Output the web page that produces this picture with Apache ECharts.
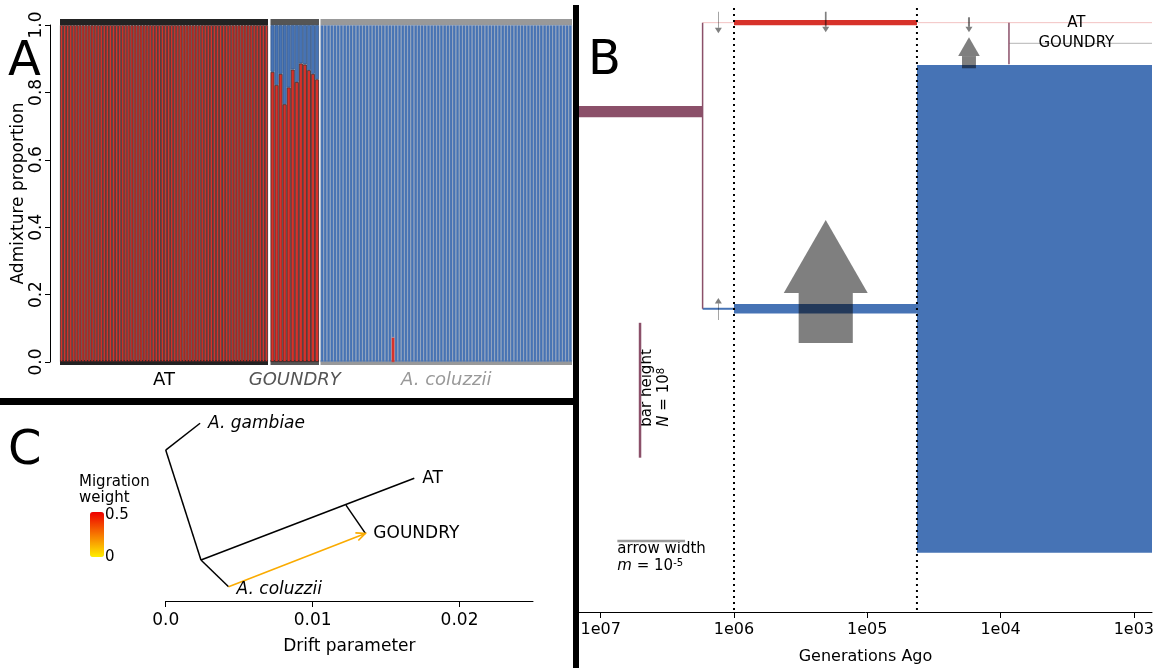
<!DOCTYPE html>
<html>
<head>
<meta charset="utf-8">
<title>Admixture, demography and TreeMix</title>
<script src="https://cdn.jsdelivr.net/npm/echarts@6/dist/echarts.min.js"></script>
</head>
<body style="margin:0;background:#fff">
<div id="chart" style="width:1164px;height:671px"></div>
<script>
// ---------- A: admixture proportion per individual (red part, blue part) ----------
var AT_RED = [
  1, 1, 1, 1, 1, 1, 1, 1, 1, 1, 1, 1, 1, 1, 1, 1, 1,
  1, 1, 1, 1, 1, 1, 1, 1, 1, 1, 1, 1, 1, 1, 1, 1, 1,
  1, 1, 1, 1, 1, 1, 1, 1, 1, 1, 1, 1, 1, 1, 1, 1, 1,
  1, 1, 1, 1, 1, 1, 1, 1, 1, 1, 1, 1, 1, 1, 1, 1, 1
];
var GOU_RED = [0.861, 0.822, 0.855, 0.765, 0.815, 0.868, 0.831, 0.886, 0.883, 0.866, 0.855, 0.839];
var GOU_BLUE = [0.139, 0.178, 0.145, 0.235, 0.185, 0.132, 0.169, 0.114, 0.117, 0.134, 0.145, 0.161];
var COL_RED = [
  0, 0, 0, 0, 0, 0, 0, 0, 0, 0, 0, 0, 0, 0, 0, 0, 0, 0, 0, 0,
  0, 0, 0.073, 0, 0, 0, 0, 0, 0, 0, 0, 0, 0, 0, 0, 0, 0, 0, 0, 0,
  0, 0, 0, 0, 0, 0, 0, 0, 0, 0, 0, 0, 0, 0, 0, 0, 0, 0, 0, 0,
  0, 0, 0, 0, 0, 0, 0, 0, 0, 0, 0, 0, 0, 0, 0, 0, 0, 0
];
var COL_BLUE = [
  1, 1, 1, 1, 1, 1, 1, 1, 1, 1, 1, 1, 1, 1, 1, 1, 1, 1, 1, 1,
  1, 1, 0.927, 1, 1, 1, 1, 1, 1, 1, 1, 1, 1, 1, 1, 1, 1, 1, 1, 1,
  1, 1, 1, 1, 1, 1, 1, 1, 1, 1, 1, 1, 1, 1, 1, 1, 1, 1, 1, 1,
  1, 1, 1, 1, 1, 1, 1, 1, 1, 1, 1, 1, 1, 1, 1, 1, 1, 1
];
var ADMIX_TICKS = [0, 0.2, 0.4, 0.6, 0.8, 1];

// ---------- B: demographic model (x = generations ago, y = layout in individuals) ----------
var GEN_TICKS = [1e7, 1e6, 1e5, 1e4, 1e3];
var GEN_RANGE = [731, 1.455e7];
var EPOCH_T = [1e6, 4.24e4];
// population size blocks: [older gen, younger gen, y centre, N]
var POP_BLOCKS = [
  [1.455e7, 1.72e6, 3.710e8, 8.4e6],   // ancestral
  [1e6, 4.24e4, 4.369e8, 3.9e6],       // AT
  [1e6, 4.24e4, 2.248e8, 6.9e6],       // A. coluzzii
  [4.24e4, 731, 2.248e8, 3.616e8]      // A. coluzzii, recent
];
// thin lineage lines: [older gen, younger gen, y]
var LINEAGES = [
  [1.72e6, 731, 4.369e8],   // AT
  [8650, 731, 4.216e8],     // GOUNDRY
  [1.72e6, 1e6, 2.248e8]    // A. coluzzii
];
// split connectors: [gen, y from, y to]
var SPLITS = [
  [1.72e6, 4.369e8, 2.248e8],
  [8650, 4.369e8, 4.060e8]
];
// migration arrows: [gen, y tail, y tip, m]
var MIGRATIONS = [
  [1.31e6, 4.450e8, 4.290e8, 1e-7],
  [1.31e6, 2.165e8, 2.328e8, 1e-7],
  [2.05e5, 4.450e8, 4.298e8, 2.5e-7],
  [2.05e5, 1.994e8, 2.906e8, 8.0e-6],
  [1.726e4, 4.409e8, 4.298e8, 3e-7],
  [1.726e4, 4.031e8, 4.261e8, 2.06e-6]
];
var LINEAGE_LABELS = ['AT', 'GOUNDRY'];
var LINEAGE_LABEL_POS = [[2700, 4.369e8], [2700, 4.216e8]];
var BAR_LEGEND = [[5.07e6, 1.644e8, 1e8]];          // gen, y centre, N
var ARROW_LEGEND = [[7.5e6, 2.33e6, 5.26e7, 1e-5]];  // gen from, gen to, y, m

// ---------- C: TreeMix graph (x = drift parameter, y = layout) ----------
var DRIFT_TICKS = [0, 0.01, 0.02];
var TREE_EDGES = [
  [0, 0.770, 0.00234, 0.907],
  [0, 0.770, 0.00240, 0.209],
  [0.00240, 0.209, 0.00428, 0.073],
  [0.00240, 0.209, 0.01692, 0.626],
  [0.01227, 0.489, 0.01359, 0.345]
];
var TIPS = ['A. gambiae', 'AT', 'GOUNDRY', 'A. coluzzii'];
var TIP_POS = [[0.00234, 0.907], [0.01692, 0.626], [0.01359, 0.345], [0.00428, 0.073]];
var TIP_ITALIC = [true, false, false, true];
var MIGRATION_EDGES = [[0.00428, 0.073, 0.01359, 0.345, 0.14]];

var FONT = '"DejaVu Sans", "Liberation Sans", sans-serif';
var RED = '#D7322A', BLUE = '#4673B5', MAROON = '#8B5069';
var ARROW_FILL = 'rgba(0,0,0,0.5)';

var chart = echarts.init(document.getElementById('chart'));

function ids(n, prefix) {
    var a = [];
    for (var i = 1; i <= n; i++) a.push(prefix + i);
    return a;
}

// zero proportions are left empty so no border is drawn for them
function noZero(arr) {
    return arr.map(function (v) { return v === 0 ? '-' : v; });
}

function groupAxes(gi, n, name, barColor, nameStyle) {
    var cats = ids(n, name + ' ');
    var ns = { fontFamily: FONT, fontSize: 18 };
    for (var k in nameStyle) ns[k] = nameStyle[k];
    return [{
        type: 'category', gridIndex: gi, data: cats, position: 'bottom', offset: 2.5,
        axisLine: { lineStyle: { color: barColor, width: 5, cap: 'butt' } },
        axisTick: { show: false }, axisLabel: { show: false },
        name: name, nameLocation: 'middle', nameGap: 7, nameTextStyle: ns
    }, {
        type: 'category', gridIndex: gi, data: cats, position: 'top', offset: 3,
        axisLine: { lineStyle: { color: barColor, width: 6, cap: 'butt' } },
        axisTick: { show: false }, axisLabel: { show: false }
    }];
}

function bar(data, xi, yi, color, border, bw) {
    return {
        type: 'bar', xAxisIndex: xi, yAxisIndex: yi, stack: 'g' + xi,
        data: noZero(data), barCategoryGap: '0%', silent: true,
        itemStyle: { color: color, borderColor: border, borderWidth: bw }
    };
}

// ----- panel B renderers -----
function renderLineage(params, api) {
    var a = api.coord([api.value(0), api.value(2)]);
    var b = api.coord([api.value(1), api.value(2)]);
    var colors = ['#F2C2C2', '#B4B4B4', BLUE];
    var widths = [1, 1, 2];
    return {
        type: 'line', shape: { x1: a[0], y1: a[1], x2: b[0], y2: b[1] },
        style: { stroke: colors[params.dataIndex], lineWidth: widths[params.dataIndex] }
    };
}

function renderSplit(params, api) {
    var a = api.coord([api.value(0), api.value(1)]);
    var b = api.coord([api.value(0), api.value(2)]);
    return {
        type: 'line', shape: { x1: a[0], y1: a[1], x2: b[0], y2: b[1] },
        style: { stroke: MAROON, lineWidth: 1.5 }
    };
}

function renderBlock(params, api) {
    var colors = [MAROON, RED, BLUE, BLUE];
    var half = api.value(3) / 2;
    var a = api.coord([api.value(0), api.value(2) + half]);
    var b = api.coord([api.value(1), api.value(2) - half]);
    return {
        type: 'rect',
        shape: { x: a[0], y: a[1], width: b[0] - a[0], height: b[1] - a[1] },
        style: { fill: colors[params.dataIndex] }
    };
}

function renderEpoch(params, api) {
    var p = api.coord([api.value(0), 1]);
    var cs = params.coordSys;
    return {
        type: 'line', shape: { x1: p[0], y1: cs.y + 3, x2: p[0], y2: cs.y + cs.height - 2 },
        style: { stroke: '#000', lineWidth: 2, lineDash: [2, 4] }
    };
}

function renderMigration(params, api) {
    var t = api.value(0);
    var tail = api.coord([t, api.value(1)]);
    var tip = api.coord([t, api.value(2)]);
    var l1 = api.coord([ARROW_LEGEND[0][0], ARROW_LEGEND[0][2]]);
    var l2 = api.coord([ARROW_LEGEND[0][1], ARROW_LEGEND[0][2]]);
    var w = Math.abs(l2[0] - l1[0]) * api.value(3) / ARROW_LEGEND[0][3];
    var dir = tip[1] < tail[1] ? -1 : 1;
    var headW = Math.max(w * 1.55, 7);
    var headL = Math.max(w * 1.35, 5.5);
    var baseY = tip[1] - dir * headL;
    var sw = Math.max(w, 0.7);
    return {
        type: 'group', children: [{
            type: 'rect',
            shape: { x: tip[0] - sw / 2, y: Math.min(tail[1], baseY), width: sw, height: Math.abs(baseY - tail[1]) },
            style: { fill: ARROW_FILL }
        }, {
            type: 'polygon',
            shape: { points: [[tip[0] - headW / 2, baseY], [tip[0] + headW / 2, baseY], [tip[0], tip[1]]] },
            style: { fill: ARROW_FILL }
        }]
    };
}

function renderLineageLabel(params, api) {
    var p = api.coord([api.value(0), api.value(1)]);
    return {
        type: 'text', x: p[0], y: p[1],
        style: { text: LINEAGE_LABELS[params.dataIndex], font: '15px ' + FONT, fill: '#000', align: 'center', verticalAlign: 'middle' }
    };
}

function renderBarLegend(params, api) {
    var half = api.value(2) / 2;
    var top = api.coord([api.value(0), api.value(1) + half]);
    var bot = api.coord([api.value(0), api.value(1) - half]);
    var x = top[0];
    var y0 = bot[1] - 31;
    return {
        type: 'group', children: [{
            type: 'text', x: x + 7, y: y0, rotation: Math.PI / 2,
            style: { text: 'bar height', font: '15px ' + FONT, fill: '#000', align: 'left', verticalAlign: 'middle' }
        }, {
            type: 'text', x: x + 24, y: y0, rotation: Math.PI / 2,
            style: {
                text: '{i|N} = 10{s|8}', font: '15px ' + FONT, fill: '#000', align: 'left', verticalAlign: 'middle',
                rich: { i: { fontStyle: 'italic', fontSize: 15, fontFamily: FONT }, s: { fontSize: 10, fontFamily: FONT, verticalAlign: 'top' } }
            }
        }, {
            type: 'line', shape: { x1: x, y1: top[1], x2: x, y2: bot[1] },
            style: { stroke: MAROON, lineWidth: 2.5 }
        }]
    };
}

function renderArrowLegend(params, api) {
    var a = api.coord([api.value(0), api.value(2)]);
    var b = api.coord([api.value(1), api.value(2)]);
    return {
        type: 'group', children: [{
            type: 'text', x: a[0], y: a[1] + 8,
            style: { text: 'arrow width', font: '15px ' + FONT, fill: '#000', align: 'left', verticalAlign: 'middle' }
        }, {
            type: 'text', x: a[0], y: a[1] + 25,
            style: {
                text: '{i|m} = 10{s|-5}', font: '15px ' + FONT, fill: '#000', align: 'left', verticalAlign: 'middle',
                rich: { i: { fontStyle: 'italic', fontSize: 15, fontFamily: FONT }, s: { fontSize: 10, fontFamily: FONT, verticalAlign: 'top' } }
            }
        }, {
            type: 'line', shape: { x1: a[0], y1: a[1], x2: b[0], y2: b[1] },
            style: { stroke: '#9A9A9A', lineWidth: 2.5 }
        }]
    };
}

// ----- panel C renderers -----
function renderEdge(params, api) {
    var a = api.coord([api.value(0), api.value(1)]);
    var b = api.coord([api.value(2), api.value(3)]);
    return {
        type: 'line', shape: { x1: a[0], y1: a[1], x2: b[0], y2: b[1] },
        style: { stroke: '#000', lineWidth: 1.5 }
    };
}

function renderMigEdge(params, api) {
    var a = api.coord([api.value(0), api.value(1)]);
    var b = api.coord([api.value(2), api.value(3)]);
    var color = api.visual('color');
    var ang = Math.atan2(b[1] - a[1], b[0] - a[0]);
    var h = 10, sp = 0.42;
    var h1 = [b[0] - h * Math.cos(ang - sp), b[1] - h * Math.sin(ang - sp)];
    var h2 = [b[0] - h * Math.cos(ang + sp), b[1] - h * Math.sin(ang + sp)];
    return {
        type: 'group', children: [{
            type: 'line', shape: { x1: a[0], y1: a[1], x2: b[0], y2: b[1] },
            style: { stroke: color, lineWidth: 1.6 }
        }, {
            type: 'polyline', shape: { points: [h1, b, h2] },
            style: { stroke: color, lineWidth: 1.6, fill: 'none' }
        }]
    };
}

function renderTip(params, api) {
    var p = api.coord([api.value(0), api.value(1)]);
    var i = params.dataIndex;
    return {
        type: 'text', x: p[0] + 8, y: p[1] + (i === 3 ? 3 : 0),
        style: {
            text: TIPS[i], fill: '#000', align: 'left', verticalAlign: 'middle',
            font: (TIP_ITALIC[i] ? 'italic ' : '') + '17px ' + FONT
        }
    };
}

var series = [
    bar(AT_RED, 0, 0, RED, '#3a2626', 0.8),
    bar(GOU_RED, 2, 1, RED, '#3a2626', 0.8),
    bar(GOU_BLUE, 2, 1, BLUE, '#355889', 0.8),
    bar(COL_RED, 4, 2, RED, RED, 0.5),
    bar(COL_BLUE, 4, 2, BLUE, '#8796ae', 0.5),
    { type: 'custom', xAxisIndex: 6, yAxisIndex: 3, data: LINEAGES, renderItem: renderLineage, silent: true },
    { type: 'custom', xAxisIndex: 6, yAxisIndex: 3, data: SPLITS, renderItem: renderSplit, silent: true },
    { type: 'custom', xAxisIndex: 6, yAxisIndex: 3, data: POP_BLOCKS, renderItem: renderBlock, silent: true },
    { type: 'custom', xAxisIndex: 6, yAxisIndex: 3, data: EPOCH_T.map(function (t) { return [t]; }), renderItem: renderEpoch, silent: true },
    { type: 'custom', xAxisIndex: 6, yAxisIndex: 3, data: MIGRATIONS, renderItem: renderMigration, silent: true },
    { type: 'custom', xAxisIndex: 6, yAxisIndex: 3, data: LINEAGE_LABEL_POS, renderItem: renderLineageLabel, silent: true },
    { type: 'custom', xAxisIndex: 6, yAxisIndex: 3, data: BAR_LEGEND, renderItem: renderBarLegend, silent: true },
    { type: 'custom', xAxisIndex: 6, yAxisIndex: 3, data: ARROW_LEGEND, renderItem: renderArrowLegend, silent: true },
    { type: 'custom', xAxisIndex: 7, yAxisIndex: 4, data: TREE_EDGES, renderItem: renderEdge, silent: true },
    { type: 'custom', xAxisIndex: 7, yAxisIndex: 4, data: MIGRATION_EDGES, renderItem: renderMigEdge, silent: true },
    { type: 'custom', xAxisIndex: 7, yAxisIndex: 4, data: TIP_POS, renderItem: renderTip, silent: true }
];
var MIG_SERIES = 14;

var axisBlack = { lineStyle: { color: '#000', width: 1 } };

var option = {
    animation: false,
    backgroundColor: '#fff',
    textStyle: { fontFamily: FONT },
    grid: [
        { left: 60, top: 25, width: 208, height: 337 },
        { left: 270.5, top: 25, width: 48.5, height: 337 },
        { left: 320.5, top: 25, width: 251.5, height: 337 },
        { left: 579, top: 5, width: 573, height: 607 },
        { left: 165.7, top: 405, width: 367.3, height: 196 }
    ],
    xAxis: []
        .concat(groupAxes(0, AT_RED.length, 'AT', '#222222', { color: '#000' }))
        .concat(groupAxes(1, GOU_RED.length, 'GOUNDRY', '#555555', { color: '#555', fontStyle: 'italic' }))
        .concat(groupAxes(2, COL_BLUE.length, 'A. coluzzii', '#999999', { color: '#999', fontStyle: 'italic' }))
        .concat([{
            type: 'log', logBase: 10, gridIndex: 3, min: GEN_RANGE[0], max: GEN_RANGE[1], inverse: true,
            axisLine: axisBlack, splitLine: { show: false },
            axisTick: { customValues: GEN_TICKS, length: 6, lineStyle: { color: '#000' } },
            axisLabel: {
                customValues: GEN_TICKS, margin: 10, fontSize: 16, color: '#000', fontFamily: FONT,
                formatter: function (v) {
                    var e = Math.round(Math.log10(v));
                    return '1e' + (e < 10 ? '0' : '') + e;
                }
            },
            name: 'Generations Ago', nameLocation: 'middle', nameGap: 37,
            nameTextStyle: { fontSize: 16, color: '#000', fontFamily: FONT }
        }, {
            type: 'value', gridIndex: 4, min: 0, max: 0.025,
            axisLine: axisBlack, splitLine: { show: false },
            axisTick: { customValues: DRIFT_TICKS, length: 6, lineStyle: { color: '#000' } },
            axisLabel: {
                customValues: DRIFT_TICKS, margin: 11, fontSize: 17, color: '#000', fontFamily: FONT,
                formatter: function (v) { return v === 0 ? '0.0' : String(v); }
            },
            name: 'Drift parameter', nameLocation: 'middle', nameGap: 37,
            nameTextStyle: { fontSize: 17, color: '#000', fontFamily: FONT }
        }]),
    yAxis: [{
        type: 'value', gridIndex: 0, min: 0, max: 1, offset: 10,
        axisLine: { show: true, lineStyle: { color: '#000', width: 1 } },
        axisTick: { show: true, customValues: ADMIX_TICKS, length: 5, lineStyle: { color: '#000' } },
        axisLabel: {
            customValues: ADMIX_TICKS, rotate: 90, margin: 5, fontSize: 17, color: '#000', fontFamily: FONT,
            formatter: function (v) { return v.toFixed(1); }
        },
        splitLine: { show: false },
        name: 'Admixture proportion', nameLocation: 'middle', nameGap: 23,
        nameTextStyle: { fontSize: 17, color: '#000', fontFamily: FONT }
    },
    { type: 'value', gridIndex: 1, min: 0, max: 1, show: false },
    { type: 'value', gridIndex: 2, min: 0, max: 1, show: false },
    { type: 'value', gridIndex: 3, min: 0, max: 4.5e8, show: false },
    { type: 'value', gridIndex: 4, min: 0, max: 1, show: false }],
    visualMap: {
        type: 'continuous', seriesIndex: MIG_SERIES, dimension: 4, min: 0, max: 0.5,
        inRange: { color: ['#FFEE00', '#EE0000'] },
        left: 90, top: 512, itemWidth: 14, itemHeight: 45, padding: 0,
        calculable: false, hoverLink: false, text: null
    },
    graphic: [
        { type: 'rect', shape: { x: 0, y: 398, width: 576, height: 7 }, style: { fill: '#000' } },
        { type: 'rect', shape: { x: 573, y: 5, width: 6, height: 663 }, style: { fill: '#000' } },
        { type: 'text', x: 8, y: 63, style: { text: 'A', font: '48px ' + FONT, fill: '#000', verticalAlign: 'middle' } },
        { type: 'text', x: 588, y: 62, style: { text: 'B', font: '48px ' + FONT, fill: '#000', verticalAlign: 'middle' } },
        { type: 'text', x: 8, y: 452, style: { text: 'C', font: '48px ' + FONT, fill: '#000', verticalAlign: 'middle' } },
        { type: 'text', x: 79, y: 482, style: { text: 'Migration', font: '15px ' + FONT, fill: '#000', verticalAlign: 'middle' } },
        { type: 'text', x: 79, y: 498, style: { text: 'weight', font: '15px ' + FONT, fill: '#000', verticalAlign: 'middle' } },
        { type: 'text', x: 105, y: 515, style: { text: '0.5', font: '15px ' + FONT, fill: '#000', verticalAlign: 'middle' } },
        { type: 'text', x: 105, y: 557, style: { text: '0', font: '15px ' + FONT, fill: '#000', verticalAlign: 'middle' } }
    ],
    series: series
};

chart.setOption(option);
</script>
</body>
</html>
